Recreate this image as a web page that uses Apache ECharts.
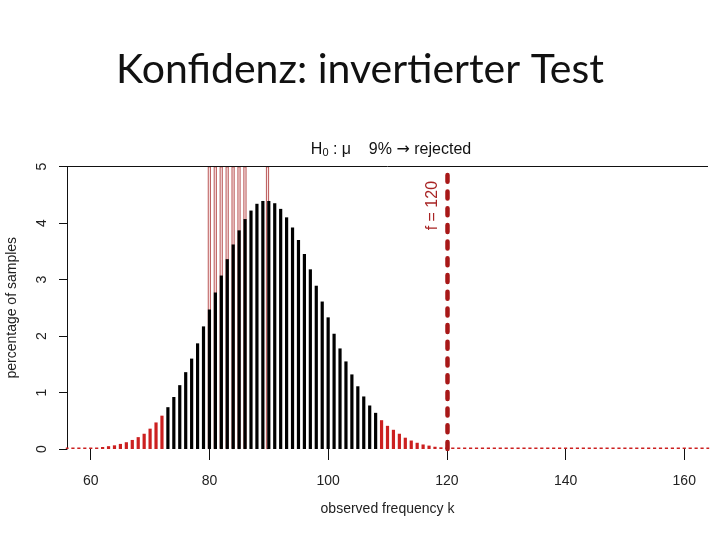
<!DOCTYPE html>
<html><head><meta charset="utf-8">
<script src="https://cdn.jsdelivr.net/npm/echarts@6/dist/echarts.min.js"></script>
<style>html,body{margin:0;padding:0;background:#fff}#c{width:720px;height:540px}</style>
</head><body><div id="c"></div>
<script>
// observed frequency k starts here, one value per integer k
const kFirst = 56;
// percentage of samples for k = 56 .. 164
const pct = [
  0.01, 0.01, 0.012, 0.015, 0.02, 0.025, 0.035, 0.05, 0.065, 0.09,
  0.12, 0.16, 0.21, 0.27, 0.36, 0.47, 0.59, 0.74, 0.92, 1.13,
  1.36, 1.60, 1.87, 2.17, 2.47, 2.77, 3.07, 3.36, 3.62, 3.87,
  4.07, 4.22, 4.34, 4.39, 4.39, 4.35, 4.25, 4.10, 3.92, 3.70,
  3.45, 3.18, 2.89, 2.61, 2.33, 2.04, 1.78, 1.55, 1.32, 1.11,
  0.93, 0.77, 0.64, 0.51, 0.41, 0.34, 0.27, 0.20, 0.15, 0.11,
  0.08, 0.06, 0.04, 0.03, 0.02, 0.01, 0.01, 0.01, 0.01, 0.01,
  0.01, 0.01, 0.01, 0.01, 0.01, 0.01, 0.01, 0.01, 0.01, 0.01,
  0.01, 0.01, 0.01, 0.01, 0.01, 0.01, 0.01, 0.01, 0.01, 0.01,
  0.01, 0.01, 0.01, 0.01, 0.01, 0.01, 0.01, 0.01, 0.01, 0.01,
  0.01, 0.01, 0.01, 0.01, 0.01, 0.01, 0.01, 0.01, 0.01
];
// acceptance region (black bars)
const acceptLow = 73;
const acceptHigh = 108;
// tested mu positions (thin red outlines)
const testedMu = [80, 81, 82, 83, 84, 85, 86, 89.8];
const testedTop = 5;
// observed value
const fValue = 120;
const fLineTop = 4.85;
const xTicks = [60, 80, 100, 120, 140, 160];
const xMin = 56, xMax = 164;
const yMin = 0, yMax = 5, yStep = 1;

const accepted = [], rejected = [];
pct.forEach((v, i) => {
  const k = kFirst + i;
  if (k >= acceptLow && k <= acceptHigh) accepted.push([k, v]);
  else rejected.push([k, v]);
});

const chart = echarts.init(document.getElementById('c'), null, {renderer: 'canvas'});
const axisFont = {fontFamily: 'Liberation Sans', fontSize: 14, color: '#222'};
chart.setOption({
  animation: false,
  backgroundColor: '#fff',
  title: [
    {text: 'Konfidenz: invertierter Test', left: 'center', top: 44,
     textStyle: {fontFamily: 'Lato', fontSize: 41, fontWeight: 'normal', color: '#111'}},
    {text: 'H{s|0} : μ    9% {a|→} rejected', left: 386, textAlign: 'center', top: 136,
     textStyle: {fontFamily: 'Liberation Sans', fontSize: 16, fontWeight: 'normal', color: '#111',
       rich: {
         s: {fontFamily: 'Liberation Sans', fontSize: 11, verticalAlign: 'bottom', padding: [6, 0, 0, 0], color: '#111'},
         a: {fontFamily: 'DejaVu Sans', fontSize: 16, color: '#111'}
       }}}
  ],
  grid: {left: 67, right: 12, top: 166.5, bottom: 91, outerBoundsMode: 'none', containLabel: false},
  xAxis: {
    type: 'value', min: xMin, max: xMax,
    name: 'observed frequency k', nameLocation: 'middle', nameGap: 53,
    nameTextStyle: axisFont,
    axisLine: {show: false},
    axisTick: {show: true, customValues: xTicks, length: 11, lineStyle: {color: '#111', width: 1}},
    axisLabel: {customValues: xTicks, margin: 25, ...axisFont},
    splitLine: {show: false}
  },
  yAxis: {
    type: 'value', min: yMin, max: yMax, interval: yStep,
    name: 'percentage of samples', nameLocation: 'middle', nameGap: 48,
    nameTextStyle: axisFont,
    axisLine: {show: true, lineStyle: {color: '#111', width: 1}},
    axisTick: {show: true, length: 8, lineStyle: {color: '#111'}},
    axisLabel: {rotate: 90, margin: 18, ...axisFont},
    splitLine: {show: false}
  },
  series: [
    {
      name: 'tested', type: 'bar', z: 1, barWidth: 3, barGap: '-100%',
      data: testedMu.map(m => [m, testedTop]),
      itemStyle: {color: 'rgba(230,150,150,0.25)', borderColor: '#a83030', borderWidth: 0.8},
      markLine: {
        silent: true, symbol: 'none', animation: false,
        lineStyle: {color: '#111', width: 1, type: 'solid'},
        label: {show: false},
        data: [{yAxis: yMax}]
      }
    },
    {
      name: 'accepted', type: 'bar', z: 3, barWidth: 3.2, barGap: '-100%',
      data: accepted, itemStyle: {color: '#000'}
    },
    {
      name: 'rejected', type: 'bar', z: 3, barWidth: 3.2, barGap: '-100%', barMinHeight: 1.5,
      data: rejected, itemStyle: {color: '#cc2020'},
      markLine: {
        silent: true, symbol: 'none', animation: false,
        lineStyle: {color: '#a81818', width: 4.5, type: [7, 9.7], cap: 'round'},
        label: {show: true, formatter: 'f = ' + fValue, position: 'insideEndTop',
          fontFamily: 'Liberation Sans', fontSize: 16, color: '#a82424', distance: 6},
        data: [[{coord: [fValue, 0]}, {coord: [fValue, fLineTop]}]]
      }
    }
  ]
});
</script></body></html>
